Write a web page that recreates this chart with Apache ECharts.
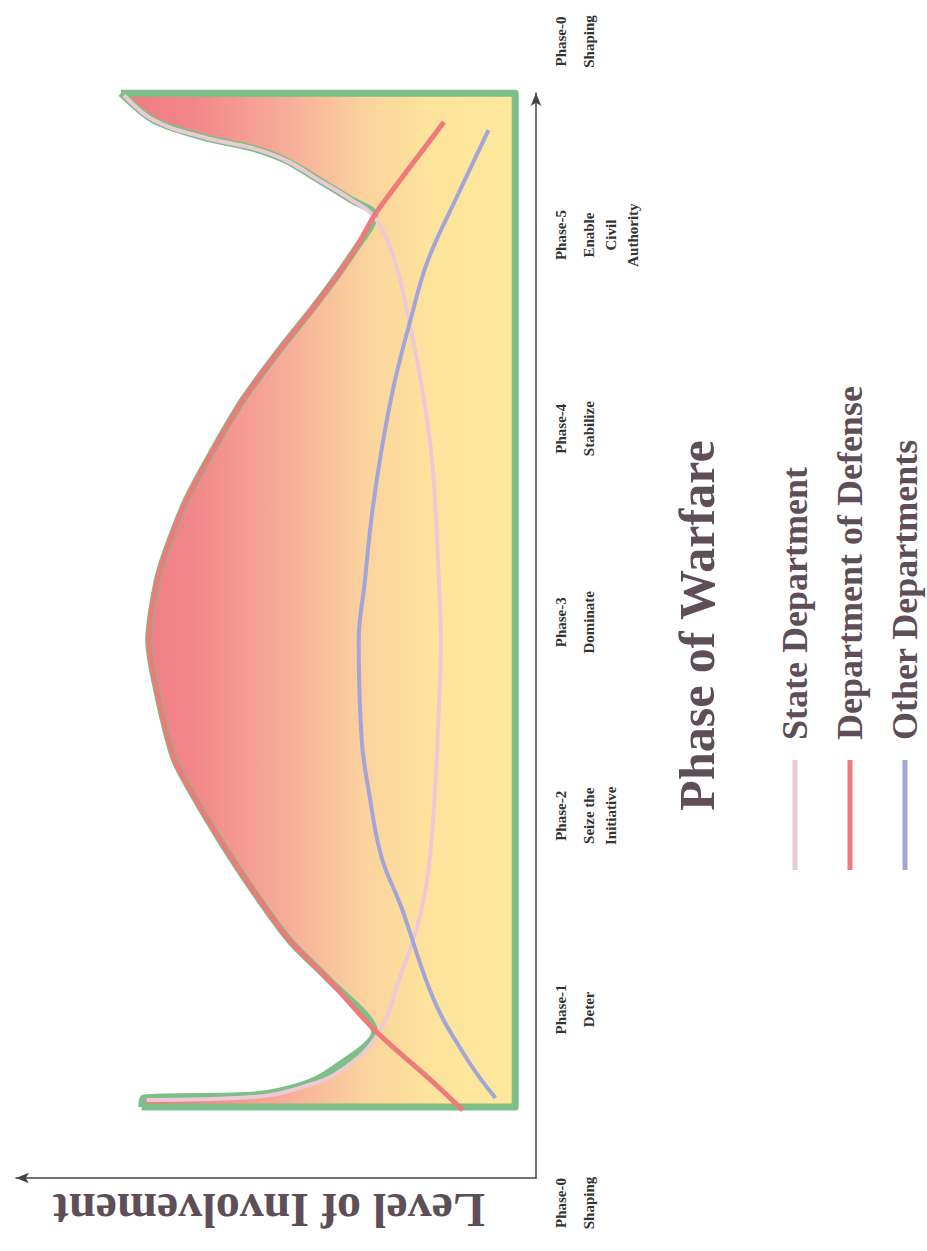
<!DOCTYPE html>
<html>
<head>
<meta charset="utf-8">
<style>
html,body{margin:0;padding:0;width:927px;height:1251px;overflow:hidden;background:#fff;}
#chart{position:absolute;left:-162px;top:162px;width:1251px;height:927px;transform:rotate(-90deg);transform-origin:50% 50%;}
</style>
<script src="https://cdn.jsdelivr.net/npm/echarts@6/dist/echarts.min.js"></script>
</head>
<body>
<div id="chart"></div>
<script>
// chart is drawn landscape and then turned a quarter to the left, like the scan
var phaseLabels = ['Phase-0', 'Phase-1', 'Phase-2', 'Phase-3', 'Phase-4', 'Phase-5', 'Phase-0'];
var phaseNames = ['Shaping', 'Deter', 'Seize the\nInitiative', 'Dominate', 'Stabilize', 'Enable\nCivil\nAuthority', 'Shaping'];

// [phase, level]
var outline = [[0.496,79.6],[0.542,79.2],[0.558,56.8],[0.609,47.2],[0.687,41.2],[0.883,32.6],[1.152,41.8],[1.358,49.8],
  [1.617,57.2],[1.875,63.8],[2.133,69.8],[2.304,73.2],[2.650,76.6],[2.908,78.2],[3.202,76.6],[3.373,74.6],[3.631,70.6],
  [3.889,65.2],[4.148,59.2],[4.406,51.8],[4.664,43.8],[4.922,36.6],[5.103,32.6],[5.181,37.2],[5.284,43.8],[5.387,50.6],
  [5.449,57.2],[5.506,67.2],[5.594,77.2],[5.733,83.8]];
var frame = [[0.496,79.6],[0.496,4.2],[5.733,4.2],[5.733,83.8]];
var stateDept = [[0.532,78.6],[0.547,57.2],[0.599,47.2],[0.687,39.2],[0.878,31.8],[1.188,27.2],[1.446,23.8],
  [1.705,21.8],[2.045,20.6],[2.562,19.6],[2.908,19.2],[3.202,19.6],[3.543,20.2],[3.889,21.2],[4.236,23.2],[4.576,25.8],
  [4.871,28.6],[5.093,32.6],[5.181,37.2],[5.284,43.8],[5.387,50.6],[5.449,57.2],[5.506,67.2],[5.594,77.2],[5.723,83.2]];
var defenseDept = [[0.480,14.8],[0.620,20.6],[0.894,32.6],[1.152,41.8],[1.358,49.8],[1.617,57.2],[1.875,63.8],[2.133,69.8],
  [2.304,73.2],[2.650,76.6],[2.908,78.2],[3.202,76.6],[3.373,74.6],[3.631,70.6],[3.889,65.2],[4.148,59.2],[4.406,51.8],
  [4.664,43.8],[4.922,36.6],[5.103,32.6],[5.346,25.6],[5.584,18.6]];
var otherDepts = [[0.542,8.2],[0.739,13.8],[1.049,20.6],[1.529,27.2],[1.787,31.2],[2.133,33.8],[2.392,35.2],
  [2.908,35.8],[3.202,34.6],[3.543,33.2],[3.889,31.2],[4.236,28.6],[4.576,25.2],[4.871,21.8],[5.207,15.8],[5.542,9.6]];

var serif = "'Liberation Serif', 'Times New Roman', serif";
var ink = '#5e4e57';
var chart = echarts.init(document.getElementById('chart'), null, {renderer: 'svg'});

function phaseLabel(v){
	var i = Math.round(v);
	var lines = phaseNames[i].split('\n').map(function(s){ return '{d|' + s + '}'; });
	return '{p|' + phaseLabels[i] + '}\n' + lines.join('\n');
}

chart.setOption({
	backgroundColor: '#ffffff',
	animation: false,
	title: {
		text: 'Phase of Warfare', left: 'center', top: 667,
		textStyle: {fontSize: 50, fontWeight: 'bold', fontFamily: serif, color: ink}
	},
	legend: {
		data: ['State Department', 'Department of Defense', 'Other Departments'],
		orient: 'vertical', left: 381, top: 775, height: 152, padding: 0,
		icon: 'rect', itemWidth: 110, itemHeight: 5, itemGap: 15,
		textStyle: {fontSize: 36, fontWeight: 'bold', fontFamily: serif, color: ink, lineHeight: 40, padding: [0, 0, 0, 15]}
	},
	grid: [
		{left: 73, right: 93, top: 16, bottom: 391, outerBoundsMode: 'none'},
		{left: 48, right: 41.5, top: 16, bottom: 391, outerBoundsMode: 'none'}
	],
	xAxis: [{
		gridIndex: 0, type: 'value', min: 0, max: 1,
		axisLine: {show: true, onZero: false, symbol: ['none', 'arrow'], symbolSize: [8, 13], lineStyle: {color: '#444', width: 1.5}},
		axisTick: {show: false}, axisLabel: {show: false}, splitLine: {show: false}
	}, {
		gridIndex: 1, type: 'value', min: 0, max: 6, interval: 1,
		axisLine: {show: false}, axisTick: {show: false}, splitLine: {show: false},
		axisLabel: {
			show: true, margin: 8, showMinLabel: true, showMaxLabel: true, formatter: phaseLabel,
			rich: {
				p: {fontSize: 15, fontWeight: 'bold', fontFamily: serif, color: '#333', lineHeight: 34, align: 'center'},
				d: {fontSize: 15, fontWeight: 'bold', fontFamily: serif, color: '#333', lineHeight: 22, align: 'center'}
			}
		}
	}],
	yAxis: [{
		gridIndex: 0, type: 'value', min: 0, max: 105,
		name: 'Level of Involvement', nameLocation: 'middle', nameGap: 8, nameRotate: 90,
		nameTextStyle: {fontSize: 48, fontWeight: 'bold', fontFamily: serif, color: ink, padding: [0, 0, 0, 14]},
		axisLine: {show: true, onZero: false, symbol: ['none', 'arrow'], symbolSize: [8, 13], lineStyle: {color: '#444', width: 1.5}},
		axisTick: {show: false}, axisLabel: {show: false}, splitLine: {show: false}
	}, {
		gridIndex: 1, type: 'value', min: 0, max: 105, show: false
	}],
	series: [{
		name: 'outline', type: 'line', xAxisIndex: 1, yAxisIndex: 1, data: outline,
		symbol: 'none', smooth: 0.3,
		lineStyle: {color: '#7cbf88', width: 7},
		areaStyle: {
			origin: 4.2, opacity: 1,
			color: new echarts.graphic.LinearGradient(0, 0, 0, 1, [
				{offset: 0, color: '#f07a82'}, {offset: 0.18, color: '#f2868a'}, {offset: 0.42, color: '#f7ad99'},
				{offset: 0.62, color: '#fbd39d'}, {offset: 0.78, color: '#fde39c'}, {offset: 1, color: '#fde89b'}
			])
		}
	}, {
		name: 'frame', type: 'line', xAxisIndex: 1, yAxisIndex: 1, data: frame,
		symbol: 'none', lineStyle: {color: '#7cbf88', width: 7, join: 'round'}
	}, {
		name: 'State Department', type: 'line', xAxisIndex: 1, yAxisIndex: 1, data: stateDept,
		symbol: 'none', smooth: 0.4, color: '#efc8d6',
		lineStyle: {color: '#efc8d6', width: 4}
	}, {
		name: 'Other Departments', type: 'line', xAxisIndex: 1, yAxisIndex: 1, data: otherDepts,
		symbol: 'none', smooth: 0.4, color: '#a3a5d8',
		lineStyle: {color: '#a3a5d8', width: 4}
	}, {
		name: 'Department of Defense', type: 'line', xAxisIndex: 1, yAxisIndex: 1, data: defenseDept,
		symbol: 'none', smooth: 0.3, color: '#ee7b79',
		lineStyle: {color: '#ee7b79', width: 5}
	}]
});
</script>
</body>
</html>
